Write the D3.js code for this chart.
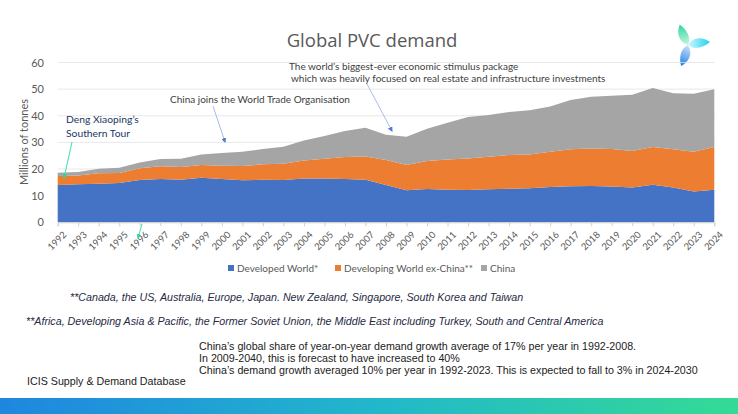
<!DOCTYPE html>
<html>
<head>
<meta charset="utf-8">
<script src="https://cdn.jsdelivr.net/npm/d3@7"></script>
<style>
  body { margin: 0; background: #fff; }
  svg { display: block; }
</style>
</head>
<body>
<script>
// values (millions of tonnes)
let years = d3.range(1992, 2025);
let developed = [14.0, 14.25, 14.5, 14.75, 15.9, 16.25, 16.0, 16.75, 16.25, 15.75, 16.0, 15.9, 16.4, 16.4, 16.25, 16.0,
                 14.0, 12.0, 12.5, 12.25, 12.1, 12.4, 12.6, 12.75, 13.25, 13.5, 13.6, 13.4, 13.1, 14.1, 13.1, 11.6, 12.25];
let developing = [3.4, 3.35, 3.9, 3.75, 4.35, 4.75, 4.75, 4.75, 5.0, 5.35, 5.75, 6.1, 6.85, 7.5, 8.25, 8.75,
                  9.4, 9.5, 10.5, 11.35, 11.9, 12.2, 12.65, 12.75, 13.25, 13.9, 14.15, 14.1, 13.65, 14.15, 14.3, 14.9, 16.0];
let china = [1.2, 1.3, 1.7, 2.0, 2.25, 2.75, 3.15, 4.0, 4.75, 5.4, 5.75, 6.4, 7.5, 8.5, 9.75, 10.75,
             9.5, 10.6, 12.1, 13.8, 15.5, 15.65, 16.15, 16.6, 17.0, 18.5, 19.35, 20.0, 21.15, 22.15, 21.1, 21.75, 21.75];
let seriesNames = ["Developed World*", "Developing World ex-China**", "China"];
let seriesColors = ["#4472c4", "#ed7d31", "#a5a5a5"];
let yTicks = [0, 10, 20, 30, 40, 50, 60];

init();

function init() {
  let width = 738, height = 414;
  let svg = d3.select("body").append("svg")
              .attr("width", width)
              .attr("height", height);
  let defs = svg.append("defs");

  let x = d3.scaleLinear().domain([1992, 2024]).range([57.7, 714.3]);
  let y = d3.scaleLinear().domain([0, 60]).range([222.3, 62.5]);

  // title
  svg.append("text")
     .attr("x", 372).attr("y", 47)
     .attr("text-anchor", "middle")
     .attr("font-family", "'Open Sans', sans-serif")
     .attr("font-size", 18.5)
     .attr("fill", "#595959")
     .text("Global PVC demand");

  // logo
  let logo = svg.append("g").attr("transform", "translate(688,45)");
  let petals = [["#2fd69a", "#c8f5e4", -104], ["#19d3f0", "#d4f6fb", 0], ["#1e7fe8", "#cfe3fb", 116]];
  petals.forEach((p, i) => {
    let gr = defs.append("linearGradient").attr("id", "pet" + i)
                 .attr("x1", "0").attr("x2", "1").attr("y1", "0").attr("y2", "0");
    gr.append("stop").attr("offset", "0").attr("stop-color", p[1]);
    gr.append("stop").attr("offset", "1").attr("stop-color", p[0]);
    logo.append("path")
        .attr("d", "M0,0 C6,-9 15,-8 22,-3 C15,3 6,5 0,0 Z")
        .attr("fill", "url(#pet" + i + ")")
        .attr("transform", "rotate(" + p[2] + ")");
  });

  // grid
  svg.append("g").selectAll("line")
     .data(yTicks.slice(1))
     .enter().append("line")
     .attr("x1", 57.7).attr("x2", 714.3)
     .attr("y1", d => y(d)).attr("y2", d => y(d))
     .attr("stroke", "#e3e3e3").attr("stroke-width", 0.8);

  // stacked areas
  let rows = years.map((yr, i) => ({year: yr, a: developed[i], b: developing[i], c: china[i]}));
  let stack = d3.stack().keys(["a", "b", "c"])(rows);
  let area = d3.area()
               .x(d => x(d.data.year))
               .y0(d => y(d[0]))
               .y1(d => y(d[1]));
  svg.append("g").selectAll("path")
     .data(stack)
     .enter().append("path")
     .attr("d", area)
     .attr("fill", (d, i) => seriesColors[i]);

  // x axis
  let xAxis = svg.append("g")
                 .attr("transform", "translate(0," + y(0) + ")")
                 .call(d3.axisBottom(x).tickValues(years).tickFormat(d3.format("d")).tickSize(4));
  xAxis.select(".domain").attr("stroke", "#d0d0d0");
  xAxis.selectAll(".tick line").attr("stroke", "#d0d0d0");
  xAxis.selectAll("text")
       .attr("font-family", "Lato, sans-serif")
       .attr("font-size", 9.5)
       .attr("fill", "#595959")
       .attr("text-anchor", "end")
       .attr("dx", 0).attr("dy", 0)
       .attr("transform", "translate(4,8) rotate(-45)");

  // y axis labels
  let yAxis = svg.append("g")
                 .attr("transform", "translate(47,0)")
                 .call(d3.axisLeft(y).tickValues(yTicks).tickSize(0));
  yAxis.select(".domain").remove();
  yAxis.selectAll("text")
       .attr("font-family", "Lato, sans-serif")
       .attr("font-size", 11)
       .attr("fill", "#595959");

  svg.append("text")
     .attr("transform", "translate(28,142) rotate(-90)")
     .attr("text-anchor", "middle")
     .attr("font-family", "Lato, sans-serif")
     .attr("font-size", 11)
     .attr("fill", "#595959")
     .text("Millions of tonnes");

  // legend
  let legX = [228, 335, 481];
  let leg = svg.append("g").selectAll("g")
               .data(seriesNames)
               .enter().append("g")
               .attr("transform", (d, i) => "translate(" + legX[i] + ",269)");
  leg.append("rect").attr("x", 0).attr("y", -4).attr("width", 6).attr("height", 6)
     .attr("fill", (d, i) => seriesColors[i]);
  leg.append("text").attr("x", 9).attr("y", 2.5)
     .attr("font-family", "Lato, sans-serif")
     .attr("font-size", 10)
     .attr("fill", "#595959")
     .text(d => d);

  // annotations
  defs.append("marker").attr("id", "arrB")
      .attr("viewBox", "0 0 10 10").attr("refX", 8).attr("refY", 5)
      .attr("markerWidth", 5).attr("markerHeight", 5).attr("orient", "auto")
      .append("path").attr("d", "M0,0 L10,5 L0,10 Z").attr("fill", "#4f7ad0");
  defs.append("marker").attr("id", "arrG")
      .attr("viewBox", "0 0 10 10").attr("refX", 8).attr("refY", 5)
      .attr("markerWidth", 5).attr("markerHeight", 5).attr("orient", "auto")
      .append("path").attr("d", "M0,0 L10,5 L0,10 Z").attr("fill", "#2fd6a0");

  let note = (tx, ty, str, col, fs) => svg.append("text")
      .attr("x", tx).attr("y", ty)
      .attr("font-family", "Lato, sans-serif")
      .attr("font-size", fs)
      .attr("fill", col)
      .text(str);

  note(66, 123, "Deng Xiaoping\u2019s", "#203864", 10.3);
  note(66, 137, "Southern Tour", "#203864", 10.3);
  note(170, 103, "China joins the World Trade Organisation", "#404040", 10);
  note(289, 70, "The world\u2019s biggest-ever economic stimulus package", "#404040", 10);
  note(291, 82, "which was heavily focused on real estate and infrastructure investments", "#404040", 10);

  svg.append("line").attr("x1", 213).attr("y1", 106).attr("x2", 225).attr("y2", 142)
     .attr("stroke", "#a9bde6").attr("stroke-width", 1).attr("marker-end", "url(#arrB)");
  svg.append("line").attr("x1", 367).attr("y1", 84).attr("x2", 392).attr("y2", 131)
     .attr("stroke", "#a9bde6").attr("stroke-width", 1).attr("marker-end", "url(#arrB)");
  svg.append("line").attr("x1", 72).attr("y1", 142).attr("x2", 64).attr("y2", 178)
     .attr("stroke", "#3de0aa").attr("stroke-width", 1).attr("marker-end", "url(#arrG)");
  svg.append("line").attr("x1", 142).attr("y1", 224).attr("x2", 138).attr("y2", 238)
     .attr("stroke", "#3de0aa").attr("stroke-width", 1).attr("marker-end", "url(#arrG)");

  // footnotes
  let foot = (tx, ty, str, italic) => svg.append("text")
      .attr("x", tx).attr("y", ty)
      .attr("font-family", "'Liberation Sans', Arial, sans-serif")
      .attr("font-size", 10.7)
      .attr("font-style", italic ? "italic" : "normal")
      .attr("fill", italic ? "#1f2a44" : "#222")
      .text(str);

  foot(70, 301, "**Canada, the US, Australia, Europe, Japan. New Zealand, Singapore, South Korea and Taiwan", true);
  foot(26, 325, "**Africa, Developing Asia & Pacific, the Former Soviet Union, the Middle East including Turkey, South and Central America", true);
  foot(199, 350, "China\u2019s global share of year-on-year demand growth average of 17% per year in 1992-2008.", false);
  foot(199, 362, "In 2009-2040, this is forecast to have increased to 40%", false);
  foot(199, 374, "China\u2019s demand growth averaged 10% per year in 1992-2023. This is expected to fall to 3% in 2024-2030", false);
  foot(27, 385, "ICIS Supply & Demand Database", false);

  // bottom band
  let band = defs.append("linearGradient").attr("id", "band");
  band.append("stop").attr("offset", "0").attr("stop-color", "#1f86e0");
  band.append("stop").attr("offset", "0.5").attr("stop-color", "#22b6cc");
  band.append("stop").attr("offset", "1").attr("stop-color", "#35da95");
  svg.append("rect").attr("x", 0).attr("y", 398).attr("width", width).attr("height", 16)
     .attr("fill", "url(#band)");
}
</script>
</body>
</html>
